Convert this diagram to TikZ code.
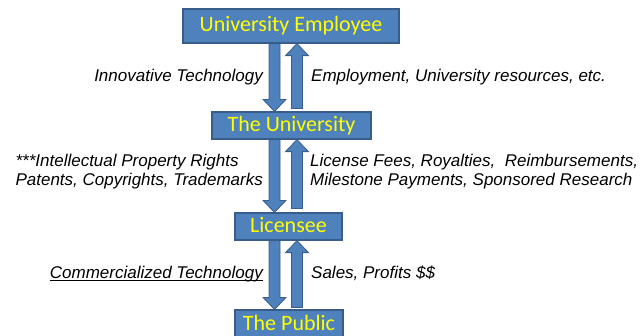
\documentclass[tikz,border=0pt]{standalone}
\usepackage{fontspec}
\setmainfont{Liberation Sans}
\newfontfamily\boxfont{Carlito}
\usetikzlibrary{calc}
\definecolor{boxblue}{HTML}{4F81BD}
\definecolor{boxedge}{HTML}{385D8A}
\definecolor{boxtext}{HTML}{FFFF00}

% vertical block arrow from #1 (tail) to #2 (tip)
\newcommand\blockarrow[2]{%
  \path[flow] let \p1=(#1), \p2=(#2), \n1={sign(\y2-\y1)} in
    ({\x1-5.5pt},{\y1}) -- ({\x1-5.5pt},{\y2-\n1*12pt}) -- ({\x1-11.5pt},{\y2-\n1*12pt})
    -- ({\x1},{\y2}) -- ({\x1+11.5pt},{\y2-\n1*12pt}) -- ({\x1+5.5pt},{\y2-\n1*12pt})
    -- ({\x1+5.5pt},{\y1}) -- cycle;}

\begin{document}
\begin{tikzpicture}[x=1pt,y=-1pt,
  party/.style={fill=boxblue,draw=boxedge,line width=1.2pt,text=boxtext,
    font=\boxfont\fontsize{22}{24}\selectfont,inner sep=0pt,
    text height=15pt,text depth=4pt},
  flowlabel/.style={font=\itshape\fontsize{17}{18.5}\selectfont,inner sep=0pt,align=left},
  flow/.style={fill=boxblue,draw=boxedge,line width=0.8pt}]

\useasboundingbox (0,0) rectangle (640,335);

% parties
\node[party,minimum width=216pt,minimum height=34pt] (emp) at (291,26) {University Employee};
\node[party,minimum width=159pt,minimum height=27pt] (uni) at (291.5,125.5) {The University};
\node[party,minimum width=107pt,minimum height=27pt] (lic) at (288.5,226.5) {Licensee};
\node[party,minimum width=108pt,minimum height=30pt] (pub) at (289,325) {The Public};

% columns of the downward and upward flows
\coordinate (dnx) at (274.5,0);
\coordinate (upx) at (297,0);

% flows
\blockarrow{emp.south -| dnx}{uni.north -| dnx}
\blockarrow{$(uni.north -| upx)+(0,-3)$}{emp.south -| upx}
\blockarrow{uni.south -| dnx}{lic.north -| dnx}
\blockarrow{$(lic.north -| upx)+(0,-4)$}{uni.south -| upx}
\blockarrow{lic.south -| dnx}{pub.north -| dnx}
\blockarrow{$(pub.north -| upx)+(0,-2)$}{lic.south -| upx}

% flow labels
\node[flowlabel,anchor=base east] (l1) at (263,81) {Innovative Technology};
\node[flowlabel,anchor=base west] (r1) at (311,81) {Employment, University resources, etc.};
\node[flowlabel,anchor=north east] (l2) at (263,154) {***Intellectual Property Rights\\Patents, Copyrights, Trademarks};
\node[flowlabel,anchor=north west] (r2) at (310,154) {License Fees, Royalties,\ \ Reimbursements,\\Milestone Payments, Sponsored Research};
\node[flowlabel,anchor=base east] (l3) at (263,278) {Commercialized Technology};
\draw[line width=0.9pt] ([yshift=-2.5pt]l3.base west) -- ([yshift=-2.5pt]l3.base east);
\node[flowlabel,anchor=base west] (r3) at (311,278) {Sales, Profits \$\$};
\end{tikzpicture}
\end{document}
